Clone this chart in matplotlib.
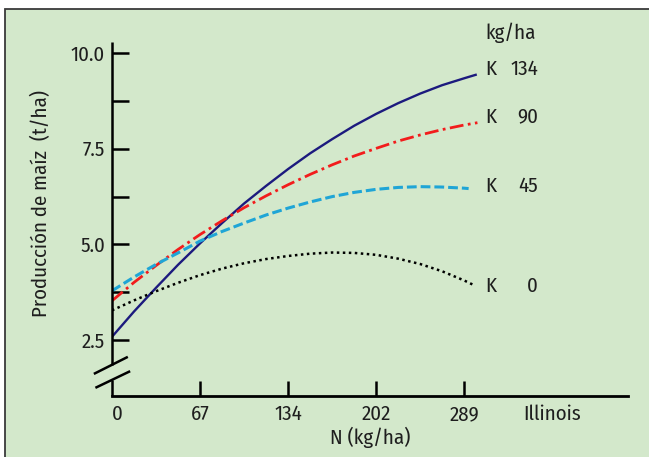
import numpy as np
import matplotlib
matplotlib.use('Agg')
import matplotlib.pyplot as plt
from matplotlib.patches import Rectangle
from matplotlib import font_manager

# condensed face close to the original; fall back to Liberation Sans if missing
installed = {f.name for f in font_manager.fontManager.ttflist}
FAMILY, FS = 'Liberation Sans', 13.5
for fam, size in [('Fira Sans Condensed', 15.0), ('Archivo Narrow', 15.5)]:
    if fam in installed:
        FAMILY, FS = fam, size
        break
plt.rcParams['font.family'] = [FAMILY, 'DejaVu Sans']

# x positions are in tick steps (the axis is evenly spaced: 0, 67, 134, 202, 289)
x_labels = ['0', '67', '134', '202', '289', 'Illinois']
y_major = [2.5, 5.0, 7.5, 10.0]
y_minor = [3.75, 6.25, 8.75]

x_k134 = [0, 0.25, 0.5, 0.75, 1, 1.25, 1.5, 1.75, 2, 2.25, 2.5, 2.75, 3, 3.25, 3.5, 3.75, 4, 4.13]
y_k134 = [2.59, 3.25, 3.87, 4.47, 5.03, 5.56, 6.07, 6.53, 6.97, 7.38, 7.75, 8.10, 8.41, 8.69, 8.94,
          9.16, 9.34, 9.43]

x_k90 = [0, 0.25, 0.5, 0.75, 1, 1.25, 1.5, 1.75, 2, 2.25, 2.5, 2.75, 3, 3.25, 3.5, 3.75, 4, 4.15]
y_k90 = [3.53, 4.01, 4.45, 4.87, 5.26, 5.62, 5.96, 6.27, 6.56, 6.83, 7.08, 7.31, 7.51, 7.70, 7.86,
         8.00, 8.12, 8.18]

x_k45 = [0, 0.25, 0.5, 0.75, 1, 1.25, 1.5, 1.75, 2, 2.25, 2.5, 2.75, 3, 3.25, 3.5, 3.75, 4, 4.05]
y_k45 = [3.79, 4.15, 4.48, 4.78, 5.09, 5.34, 5.56, 5.77, 5.95, 6.11, 6.25, 6.36, 6.44, 6.49, 6.51,
         6.50, 6.47, 6.46]

x_k0 = [0, 0.25, 0.5, 0.75, 1, 1.25, 1.5, 1.75, 2, 2.25, 2.5, 2.75, 3, 3.25, 3.5, 3.75, 4, 4.1]
y_k0 = [3.28, 3.54, 3.78, 4.00, 4.20, 4.37, 4.51, 4.62, 4.70, 4.76, 4.79, 4.78, 4.73, 4.63, 4.49,
        4.30, 4.06, 3.95]

k_names = ['134', '90', '45', '0']
label_y = [9.58, 8.33, 6.51, 3.90]

bg = '#d3e8cb'
txt = '#1e1e1e'

fig = plt.figure(figsize=(6.49, 4.57), dpi=100, facecolor='white')
# green panel with a dark frame (top and left edges visible)
fig.patches.append(Rectangle((5 / 649, -0.05), 1.2, 1 - 9 / 457 + 0.05, transform=fig.transFigure,
                             facecolor=bg, edgecolor='#3a3a3a', lw=1.3, zorder=-1))

ax = fig.add_axes([112 / 649, 61 / 457, 516 / 649, 354 / 457])
ax.set_facecolor('none')
ax.set_xlim(0, 5.86)
ax.set_ylim(1.044, 10.287)

ax.plot(x_k134, y_k134, color='#1c1a7e', lw=1.7)
ax.plot(x_k90, y_k90, color='#f21c1c', lw=2.0, dashes=(5, 1.6, 1, 1.6))
ax.plot(x_k45, y_k45, color='#1fa5d6', lw=2.2, dashes=(3.2, 1.3))
ax.plot(x_k0, y_k0, color='black', lw=1.8, dashes=(1, 1.4))

# curve labels
ax.text(4.24, 10.52, 'kg/ha', ha='left', va='center', fontsize=FS, color=txt)
for name, yy in zip(k_names, label_y):
    ax.text(4.24, yy, 'K', ha='left', va='center', fontsize=FS, color=txt)
    ax.text(4.84, yy, name, ha='right', va='center', fontsize=FS, color=txt)

# axes styling
for s in ['top', 'right', 'left']:
    ax.spines[s].set_visible(False)
ax.spines['bottom'].set_linewidth(2.0)

# broken left axis
ax.plot([0, 0], [0.088, 1], transform=ax.transAxes, color='black', lw=1.8, clip_on=False,
        solid_capstyle='butt')
ax.plot([0, 0], [0, 0.045], transform=ax.transAxes, color='black', lw=1.8, clip_on=False,
        solid_capstyle='butt')
ax.plot([-0.033, 0.0285], [0.064, 0.109], transform=ax.transAxes, color='black', lw=1.8, clip_on=False)
ax.plot([-0.030, 0.033], [0.0246, 0.0686], transform=ax.transAxes, color='black', lw=1.8, clip_on=False)

ax.set_yticks(y_major)
ax.set_yticklabels(['%.1f' % v for v in y_major])
ax.set_yticks(y_minor, minor=True)
ax.tick_params(axis='y', which='both', direction='in', length=12, width=1.8, pad=5,
               labelsize=FS, labelcolor=txt)

ax.set_xticks(range(len(x_labels)))
ax.set_xticklabels(x_labels)
ax.tick_params(axis='x', direction='in', length=11, width=1.8, pad=6, labelsize=FS, labelcolor=txt)
xt = ax.xaxis.get_major_ticks()
xt[0].tick1line.set_visible(False)
xt[-1].tick1line.set_visible(False)
ax.get_xticklabels()[0].set_ha('left')

ax.set_xlabel('N (kg/ha)', fontsize=FS, color=txt, labelpad=2)
ax.set_ylabel('Producción de maíz  (t/ha)', fontsize=FS, color=txt)
ax.yaxis.label.set_va('center')
ax.yaxis.set_label_coords(-0.1376, 0.545)

fig.savefig('out.png', dpi=100, facecolor='white')
